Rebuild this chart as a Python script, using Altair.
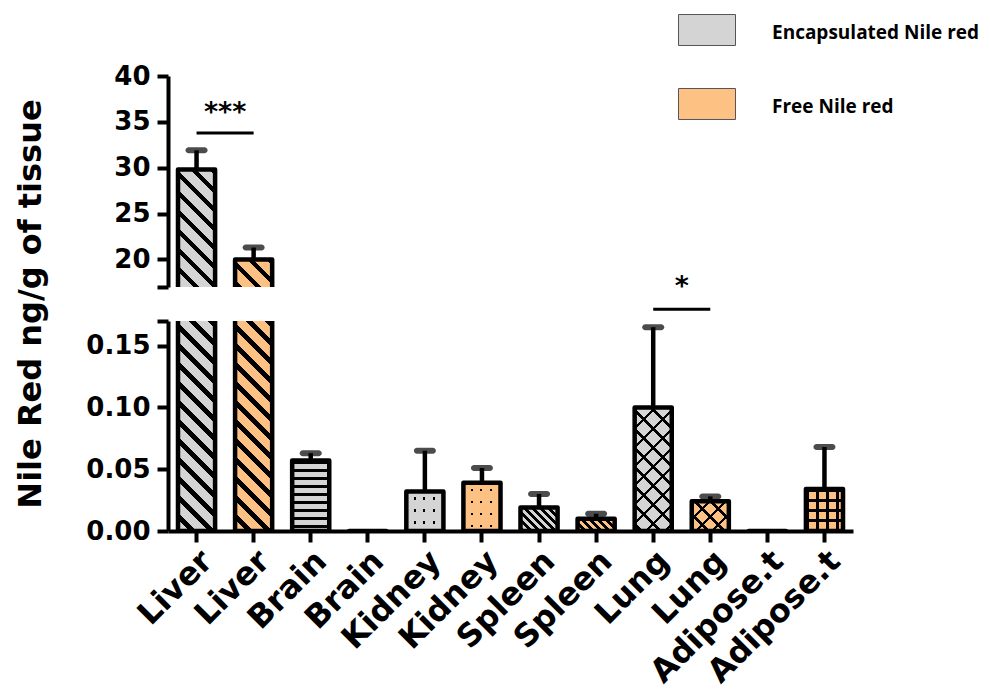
import math
import altair as alt
import pandas as pd

# ---------------- data ----------------
tissues = ["Liver", "Brain", "Kidney", "Spleen", "Lung", "Adipose.t"]
groups = ["Encapsulated Nile red", "Free Nile red"]
enc_mean = [29.8, 0.057, 0.032, 0.019, 0.100, 0.0]
enc_upper = [31.9, 0.063, 0.065, 0.030, 0.165, None]
free_mean = [20.0, 0.0, 0.039, 0.010, 0.024, 0.034]
free_upper = [21.3, None, 0.051, 0.014, 0.028, 0.068]

sig_tissue = ["Liver", "Lung"]
sig_label = ["***", "*"]
sig_line_y = [33.8, 0.1795]
sig_text_y = [36.0, 0.1975]
sig_panel = ["upper", "lower"]

upper_ticks = [17, 20, 25, 30, 35, 40]
lower_ticks = [0, 0.05, 0.10, 0.15, 0.17]

# ---------------- table ----------------
rows = []
for i, t in enumerate(tissues):
    rows.append(dict(id=f"{t}|E", group=groups[0], mean=enc_mean[i], upper=enc_upper[i]))
    rows.append(dict(id=f"{t}|F", group=groups[1], mean=free_mean[i], upper=free_upper[i]))
df = pd.DataFrame(rows)
order = list(df["id"])

sig_df = pd.DataFrame(dict(
    x1=[f"{t}|E" for t in sig_tissue],
    x2=[f"{t}|F" for t in sig_tissue],
    y=sig_line_y, ty=sig_text_y, label=sig_label, panel=sig_panel))

# ---------------- layout / style ----------------
W = 685
H_UP, H_LO = 211, 210
UP_DOM, LO_DOM = [17, 40], [0, 0.17]
LO_CAP = 0.2
P_IN, P_OUT = 0.35, 0.175
BAR_W = W / 12 * (1 - P_IN)
GRAY, ORANGE = "#d4d4d4", "#fdc184"
FONT = "DejaVu Sans"
BLK = "#000000"

# (direction, period px, fraction painted, paint colour, phase px)
patterns = {
    "Liver|E": [("back", 19, 0.34, BLK, 0)],
    "Liver|F": [("back", 19, 0.34, BLK, 0)],
    "Brain|E": [("h", 8, 0.42, BLK, 0)],
    "Kidney|E": [("h", 12, 0.2, BLK, 6), ("v", 9.5, 0.76, GRAY, 0)],
    "Kidney|F": [("h", 12, 0.2, BLK, 6), ("v", 9.5, 0.76, ORANGE, 0)],
    "Spleen|E": [("back", 8, 0.45, BLK, 0)],
    "Spleen|F": [("back", 8, 0.45, BLK, 0)],
    "Lung|E": [("back", 19, 0.2, BLK, 0), ("fwd", 19, 0.2, BLK, 0)],
    "Lung|F": [("back", 16, 0.22, BLK, 0), ("fwd", 16, 0.22, BLK, 0)],
    "Adipose.t|F": [("h", 10, 0.32, BLK, 0), ("v", 10, 0.32, BLK, 0)],
}


def stripes(w, h, kind, P, f, paint, phase):
    if kind == "back":
        a, b, cu, cv = -1, 1, 1.0, 0.0
    elif kind == "fwd":
        a, b, cu, cv = 1, 1, 0.0, 0.0
    elif kind == "h":
        a, b, cu, cv = 0, 1, 0.0, 0.0
    else:
        a, b, cu, cv = 1, 0, 0.0, 0.0
    R = abs(a) * w + abs(b) * h
    k = R / (a * a * w * w + b * b * h * h)
    du, dv = k * a * w, k * b * h
    clr = "rgba(0,0,0,0)"
    bounds = []
    j = -1
    while True:
        s = j * P + phase
        e = s + f * P
        if s >= R:
            break
        bounds.append((s, e))
        j += 1
    stops = []
    last = 0.0
    for s, e in bounds:
        s0, e0 = max(s, 0.0) / R, min(e, R) / R
        if e0 <= 0:
            continue
        if s0 > last:
            stops += [dict(offset=round(last, 5), color=clr), dict(offset=round(s0, 5), color=clr)]
        stops += [dict(offset=round(s0, 5), color=paint), dict(offset=round(e0, 5), color=paint)]
        last = e0
    if last < 1:
        stops += [dict(offset=round(last, 5), color=clr), dict(offset=1.0, color=clr)]
    return dict(gradient="linear", x1=cu, y1=cv, x2=cu + du, y2=cv + dv, stops=stops)


x_scale = alt.Scale(domain=order, paddingInner=P_IN, paddingOuter=P_OUT)
x_axis = alt.Axis(title=None, labelAngle=-45, labelAlign="right", labelBaseline="top",
                  labelExpr="split(datum.label, '|')[0]", labelFontSize=32, labelPadding=3,
                  labelOverlap=False, labelLimit=300)

legend = alt.Legend(orient="none", legendX=510, legendY=-62, title=None,
                    symbolType="M-1,-1H1V0.0877H-1Z", symbolSize=3249,
                    symbolStrokeColor="#555555", symbolStrokeWidth=1, symbolOpacity=1,
                    labelFont="Open Sans", labelFontSize=19, labelFontWeight="bold",
                    labelBaseline="bottom",
                    labelColor="black", labelOffset=36, rowPadding=38, padding=0,
                    labelLimit=400)
color = alt.Color("group:N", scale=alt.Scale(domain=groups, range=[GRAY, ORANGE]), legend=legend)


def panel(upper):
    dom = UP_DOM if upper else LO_DOM
    H = H_UP if upper else H_LO
    cap = 1e9 if upper else LO_CAP
    ppu = H / (dom[1] - dom[0])
    if upper:
        y_axis = alt.Axis(title=None, values=upper_ticks,
                          labelExpr="datum.value < 18 ? '' : datum.label")
    else:
        y_axis = alt.Axis(title="Nile Red ng/g of tissue", values=lower_ticks,
                          labelExpr="datum.value > 0.16 ? '' : format(datum.value, '.2f')",
                          titleX=-153, titleY=303.5 - 321, titleAngle=-90, titleAlign="center",
                          titleBaseline="top", titleFontSize=32, titleFont=FONT,
                          titleFontWeight="bold", titleColor="black")
    ys = alt.Scale(domain=dom, nice=False, zero=False)
    x = alt.X("id:N", scale=x_scale, sort=order, axis=None if upper else x_axis)
    y = alt.Y("disp:Q", scale=ys, axis=y_axis)
    base = alt.Chart(df).transform_calculate(disp=f"min(datum.mean, {cap})")

    layers = [base.mark_bar(clip=True, strokeWidth=0).encode(x=x, y=y, y2=alt.datum(0), color=color)]
    for bid, specs in patterns.items():
        r = df[df["id"] == bid].iloc[0]
        disp = min(r["mean"], cap)
        if disp <= dom[0]:
            continue
        h = disp * ppu
        for kind, P, f, paint, phase in specs:
            layers.append(base.transform_filter(alt.datum.id == bid)
                          .mark_bar(clip=True, fill=stripes(BAR_W, h, kind, P, f, paint, phase),
                                    strokeWidth=0)
                          .encode(x=x, y=y, y2=alt.datum(0)))
    layers.append(base.mark_bar(clip=True, fill="rgba(0,0,0,0)", stroke="black", strokeWidth=4.5,
                                strokeJoin="round").encode(x=x, y=y, y2=alt.datum(0)))
    ys_plain = alt.Y("mean:Q", scale=ys)
    err = base.transform_filter("isValid(datum.upper) && datum.upper != null")
    layers.append(err.mark_rule(clip=True, strokeWidth=4.5, color="black")
                  .encode(x=x, y=ys_plain, y2="upper:Q"))
    layers.append(err.mark_tick(clip=True, thickness=6, size=22, color="black", cornerRadius=3)
                  .encode(x=x, y=alt.Y("upper:Q", scale=ys)))
    sig = alt.Chart(sig_df).transform_filter(alt.datum.panel == ("upper" if upper else "lower"))
    layers.append(sig.mark_rule(strokeWidth=3, color="black")
                  .encode(x=alt.X("x1:N", scale=x_scale), x2="x2:N", y=alt.Y("y:Q", scale=ys)))
    layers.append(sig.mark_text(dx=BAR_W / (1 - P_IN) / 2, fontSize=27, fontWeight="bold", font=FONT,
                                baseline="middle", align="center", color="black")
                  .encode(x=alt.X("x1:N", scale=x_scale), y=alt.Y("ty:Q", scale=ys), text="label:N"))
    return alt.layer(*layers).properties(width=W, height=H)


chart = alt.vconcat(panel(True), panel(False), spacing=34, bounds="flush").properties(
    padding={"left": 5, "top": 6, "right": 0, "bottom": 5}
).configure_view(stroke=None).configure_axis(
    domainColor="black", domainWidth=4, tickColor="black", tickWidth=4, tickSize=11,
    labelFont=FONT, labelFontWeight="bold", labelColor="black", labelFontSize=26,
    labelPadding=7, grid=False
)

chart.save("out.html", embed_options={"renderer": "svg", "actions": False})
